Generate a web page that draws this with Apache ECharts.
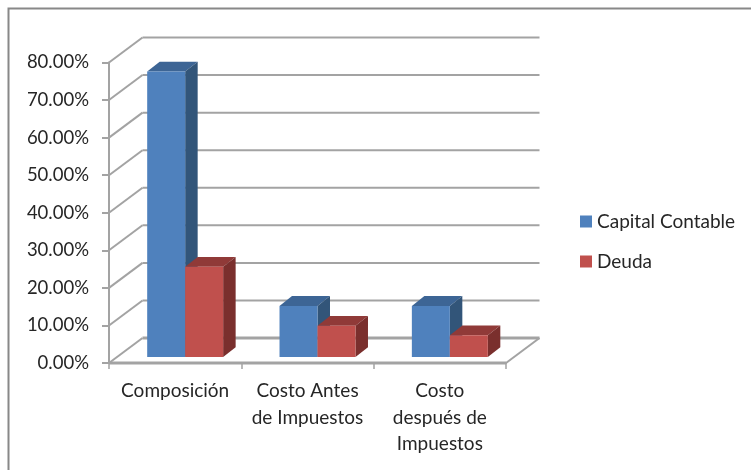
<!DOCTYPE html>
<html>
<head>
<meta charset="utf-8">
<style>
html,body{margin:0;padding:0;background:#fff}
#c{width:751px;height:470px;filter:blur(0.45px)}
</style>
<script src="https://cdn.jsdelivr.net/npm/echarts@6/dist/echarts.min.js"></script>
</head>
<body>
<div id="c"></div>
<script>
const categories = ['Composición', 'Costo Antes\nde Impuestos', 'Costo\ndespués de\nImpuestos'];
const capitalContable = [76, 13.6, 13.6];
const deuda = [24, 8.3, 5.8];
const yTicks = [0, 10, 20, 30, 40, 50, 60, 70, 80];

const wallDX = 33.5, wallDY = -25;     // depth of the whole plot box
const barOffX = 10, barOffY = -6;      // bars stand inside the floor
const barDX = 12.5, barDY = -9.8;      // depth of one bar
const barShare = 0.287;                // bar width / category width
const FONT = 'Lato, "Open Sans", sans-serif';
const TEXT = '#262626';
const GRID = '#a3a3a3';

function wallItem(params, api) {
  const v = api.value(1);
  const cs = params.coordSys;
  const y = api.coord([0, v])[1];
  const x0 = cs.x, x1 = cs.x + cs.width;
  const floor = v === 0;
  const children = [
    { type: 'line', shape: { x1: x0, y1: y, x2: x0 + wallDX, y2: y + wallDY },
      style: { stroke: GRID, lineWidth: 2 } },
    { type: 'line', shape: { x1: x0 + wallDX, y1: y + wallDY, x2: x1 + wallDX, y2: y + wallDY },
      style: { stroke: GRID, lineWidth: floor ? 3 : 2 } }
  ];
  if (floor) {
    children.push(
      { type: 'line', shape: { x1: x0, y1: y, x2: x1, y2: y }, style: { stroke: GRID, lineWidth: 3 } },
      { type: 'line', shape: { x1: x1, y1: y, x2: x1 + wallDX, y2: y + wallDY }, style: { stroke: GRID, lineWidth: 2 } }
    );
  }
  return { type: 'group', children: children };
}

function barItem(side, front, topC, sideC) {
  return function (params, api) {
    const i = api.value(0);
    const top = api.coord([i, api.value(1)]);
    const base = api.coord([i, 0]);
    const w = api.size([1, 0])[0] * barShare;
    const x0 = top[0] + barOffX + (side < 0 ? -w : 0);
    const x1 = x0 + w;
    const yt = top[1] + barOffY;
    const yb = base[1] + barOffY;
    return {
      type: 'group',
      children: [
        { type: 'polygon', shape: { points: [[x0, yt], [x0 + barDX, yt + barDY], [x1 + barDX, yt + barDY], [x1, yt]] }, style: { fill: topC } },
        { type: 'polygon', shape: { points: [[x1, yt], [x1 + barDX, yt + barDY], [x1 + barDX, yb + barDY], [x1, yb]] }, style: { fill: sideC } },
        { type: 'rect', shape: { x: x0, y: yt, width: w, height: yb - yt }, style: { fill: front } }
      ]
    };
  };
}

const chart = echarts.init(document.getElementById('c'), null, { renderer: 'canvas' });
chart.setOption({
  animation: false,
  backgroundColor: '#fff',
  textStyle: { fontFamily: FONT },
  graphic: [
    { type: 'polyline', silent: true, z: 1,
      shape: { points: [[8.5, 470], [8.5, 8.5], [751, 8.5]] },
      style: { stroke: '#888888', lineWidth: 2, fill: null } }
  ],
  grid: { left: 109, right: 245, top: 62.5, bottom: 107, containLabel: false },
  legend: {
    orient: 'vertical', left: 575, top: 204,
    icon: 'rect', itemWidth: 12, itemHeight: 12, itemGap: 15,
    selectedMode: false,
    data: ['Capital Contable', 'Deuda'],
    textStyle: { fontFamily: FONT, fontSize: 19, color: TEXT, lineHeight: 25 },
    formatter: '{name}'
  },
  xAxis: {
    type: 'category', data: categories, boundaryGap: true,
    axisLine: { show: true, lineStyle: { color: GRID, width: 2 } },
    axisTick: { show: true, alignWithLabel: false, length: 6, lineStyle: { color: GRID, width: 1.5 } },
    axisLabel: { interval: 0, fontFamily: FONT, fontSize: 19, color: TEXT, lineHeight: 26.5, margin: 15 }
  },
  yAxis: {
    type: 'value', min: 0, max: 80, interval: 10,
    axisLine: { show: true, lineStyle: { color: GRID, width: 2 } },
    axisTick: { show: true, length: 7, lineStyle: { color: GRID, width: 2 } },
    axisLabel: { fontFamily: FONT, fontSize: 18.5, color: TEXT, margin: 20, padding: [3, 0, 0, 0],
      formatter: function (v) { return v.toFixed(2) + '%'; } },
    splitLine: { show: false }
  },
  series: [
    { type: 'custom', name: 'wall', silent: true, renderItem: wallItem, clip: false,
      encode: { x: 0, y: 1 }, data: yTicks.map(function (t) { return [0, t]; }), z: 2 },
    { type: 'custom', name: 'Capital Contable', renderItem: barItem(-1, '#4f81bd', '#3d6595', '#325579'), clip: false,
      itemStyle: { color: '#4f81bd' }, encode: { x: 0, y: 1 },
      data: capitalContable.map(function (v, i) { return [i, v]; }), z: 3 },
    { type: 'custom', name: 'Deuda', renderItem: barItem(1, '#c0504d', '#903a38', '#7a2f2d'), clip: false,
      itemStyle: { color: '#c0504d' }, encode: { x: 0, y: 1 },
      data: deuda.map(function (v, i) { return [i, v]; }), z: 4 }
  ]
});
</script>
</body>
</html>
